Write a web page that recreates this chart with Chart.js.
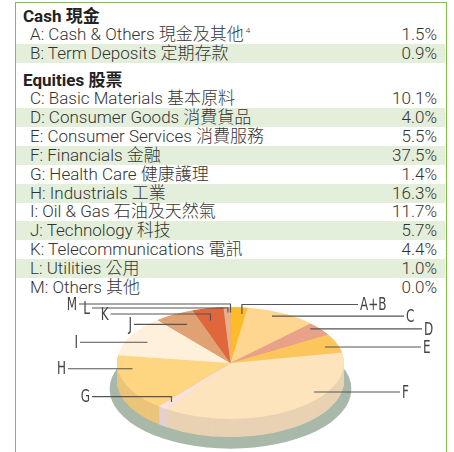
<!DOCTYPE html>
<html>
<head>
<meta charset="utf-8">
<script src="https://cdn.jsdelivr.net/npm/chart.js@4.4.0/dist/chart.umd.min.js"></script>
<style>
    html, body { margin: 0; padding: 0; background: #fff; width: 454px; height: 452px; overflow: hidden; }
    body { position: relative; font-family: Roboto, 'Noto Sans CJK TC', sans-serif; color: #333; }
    #frame { position: absolute; left: 15px; top: 2px; width: 432px; height: 480px; border: 1.5px solid #7DC242; box-sizing: border-box; }
    .row { position: absolute; left: 16px; width: 429px; height: 19px; line-height: 19px; font-size: 17px; font-weight: 300; }
    .row.band { background: #E3EFDA; }
    .row .name { position: absolute; left: 14px; white-space: nowrap; }
    .row .val { position: absolute; right: 8px; }
    .row sup { font-size: 8px; vertical-align: 7px; line-height: 0; margin-left: 2px; }
    .head { position: absolute; left: 23px; height: 19px; line-height: 19px; font-size: 17px; font-weight: 700; color: #222; }
    #pieBox { position: absolute; left: 0; top: 292px; width: 454px; height: 160px; }
</style>
</head>
<body>
<div id="frame"></div>
<div id="table"></div>
<div id="pieBox"><canvas id="pie" width="454" height="160"></canvas></div>

<script>
// --- data ---
const cashTitle = 'Cash 現金';
const cashKeys = ['A', 'B'];
const cashNames = ['Cash & Others 現金及其他', 'Term Deposits 定期存款'];
const cashValues = [1.5, 0.9];

const equityTitle = 'Equities 股票';
const equityKeys = ['C', 'D', 'E', 'F', 'G', 'H', 'I', 'J', 'K', 'L', 'M'];
const equityNames = [
    'Basic Materials 基本原料', 'Consumer Goods 消費貨品', 'Consumer Services 消費服務',
    'Financials 金融', 'Health Care 健康護理', 'Industrials 工業', 'Oil & Gas 石油及天然氣',
    'Technology 科技', 'Telecommunications 電訊', 'Utilities 公用', 'Others 其他'
];
const equityValues = [10.1, 4.0, 5.5, 37.5, 1.4, 16.3, 11.7, 5.7, 4.4, 1.0, 0.0];

// pie slices: cash is shown as one slice "A+B"
const pieLabels = [cashKeys.join('+'), ...equityKeys];
const pieValues = [cashValues.reduce((a, b) => a + b, 0), ...equityValues];

// --- styles ---
const sliceColors = ['#FDBA29', '#FED690', '#E9A18A', '#FDC65C', '#FDE4BC', '#F8E2DB',
                     '#FED580', '#FFF0DC', '#E1A273', '#E0673B', '#EBAF90', '#E9A088'];
const TILT = 56 / 113.5;   // vertical squash of the pie
const DEPTH = 18;          // wall height in px
const SHADOW_DROP = 26;
const SHADOW_COLOR = '#A8B8A9';

// callout layout per slice: t = position across the slice, f = fraction of radius,
// end = x where the leader line stops, y = elbow height (null for straight line)
const callouts = [
    { t: 0.76, f: 0.88, end: 358, y: 304.5 },
    { t: 0.41, f: 0.915, end: 404, y: null },
    { t: 0.28, f: 0.93, end: 422, y: null },
    { t: 0.59, f: 0.88, end: 421, y: null },
    { t: 0.34, f: 0.9, end: 400, y: null },
    { t: 0.5, f: 0.87, end: 92, y: 396.7 },
    { t: 0.75, f: 0.87, end: 68, y: null },
    { t: 0.45, f: 0.82, end: 80, y: null },
    { t: 0.53, f: 0.79, end: 134, y: null },
    { t: 0.4, f: 0.78, end: 110.5, y: 314 },
    { t: 0.6, f: 0.9, end: 92, y: 308 },
    { t: 0.5, f: 0.9, end: 79, y: 304 }
];
const PIE_TOP = 292;
const LABEL_SQUEEZE = 0.74;  // condensed look of the callout letters

function shade(hex) {
    const n = parseInt(hex.slice(1), 16);
    const r = Math.round(((n >> 16) & 255) * 0.92);
    const g = Math.round(((n >> 8) & 255) * 0.92);
    const b = Math.round((n & 255) * 0.95);
    return `rgb(${r},${g},${b})`;
}
const wallColors = sliceColors.map(shade);

// --- table ---
function buildTable() {
    const table = document.getElementById('table');
    const addHead = (text, top) => {
        const h = document.createElement('div');
        h.className = 'head';
        h.style.top = top + 'px';
        h.textContent = text;
        table.appendChild(h);
    };
    const addRow = (key, name, value, top, band, sup) => {
        const r = document.createElement('div');
        r.className = 'row' + (band ? ' band' : '');
        r.style.top = top + 'px';
        r.innerHTML = `<span class="name">${key}: ${name}${sup ? `<sup>${sup}</sup>` : ''}</span>` +
                      `<span class="val">${value.toFixed(1)}%</span>`;
        table.appendChild(r);
    };

    addHead(cashTitle, 6.5);
    cashKeys.forEach((k, i) => addRow(k, cashNames[i], cashValues[i], 25 + i * 19, i % 2 === 1, i === 0 ? '4' : ''));
    addHead(equityTitle, 70.5);
    equityKeys.forEach((k, i) => addRow(k, equityNames[i], equityValues[i], 89 + i * 18.9, i % 2 === 1, ''));
}
buildTable();

// --- 3D pie plugin ---
const pie3d = {
    id: 'pie3d',
    beforeDatasetsDraw(chart) {
        const ctx = chart.ctx;
        const arcs = chart.getDatasetMeta(0).data;
        const cx = arcs[0].x, cy = arcs[0].y, r = arcs[0].outerRadius;
        ctx.save();
        ctx.translate(cx, cy);
        ctx.scale(1, TILT);
        ctx.translate(-cx, -cy);

        ctx.fillStyle = SHADOW_COLOR;
        ctx.beginPath();
        ctx.arc(cx, cy + SHADOW_DROP / TILT, r * 1.065, 0, Math.PI * 2);
        ctx.fill();

        for (let i = DEPTH; i > 0; i -= 0.5) {
            arcs.forEach((arc, j) => {
                if (arc.endAngle - arc.startAngle <= 0) return;
                ctx.fillStyle = wallColors[j];
                ctx.beginPath();
                ctx.moveTo(cx, cy + i / TILT);
                ctx.arc(cx, cy + i / TILT, r, arc.startAngle, arc.endAngle);
                ctx.closePath();
                ctx.fill();
            });
        }
    },
    afterDatasetsDraw(chart) {
        const ctx = chart.ctx;
        ctx.restore();
        const arcs = chart.getDatasetMeta(0).data;
        const cx = arcs[0].x, cy = arcs[0].y, r = arcs[0].outerRadius;

        ctx.save();
        ctx.strokeStyle = '#555';
        ctx.lineWidth = 1.2;
        ctx.fillStyle = '#444';
        ctx.font = "18px 'Liberation Sans Narrow', 'DejaVu Sans Condensed', Roboto, sans-serif";
        ctx.textBaseline = 'middle';
        arcs.forEach((arc, j) => {
            const c = callouts[j];
            const a = arc.startAngle + c.t * (arc.endAngle - arc.startAngle);
            const ax = cx + Math.cos(a) * r * c.f;
            const ay = cy + Math.sin(a) * r * c.f * TILT;
            const ly = c.y === null ? ay : c.y - PIE_TOP;
            ctx.beginPath();
            ctx.moveTo(ax, ay);
            if (c.y !== null) ctx.lineTo(ax, ly);
            ctx.lineTo(c.end, ly);
            ctx.stroke();

            const right = c.end > cx;
            const tx = c.end + (right ? 2 : -2);
            ctx.save();
            ctx.translate(tx, ly + 1);
            ctx.scale(LABEL_SQUEEZE, 1);
            ctx.textAlign = right ? 'left' : 'right';
            ctx.fillText(pieLabels[j], 0, 0);
            ctx.restore();
        });
        ctx.restore();
    }
};

new Chart(document.getElementById('pie'), {
    type: 'pie',
    data: {
        labels: pieLabels,
        datasets: [{
            data: pieValues,
            backgroundColor: sliceColors,
            borderWidth: 0,
            radius: 113.5,
            clip: false
        }]
    },
    options: {
        responsive: false,
        animation: false,
        events: [],
        layout: { padding: { left: 7, right: 0, top: 0, bottom: 18 } },
        plugins: { legend: { display: false }, tooltip: { enabled: false } }
    },
    plugins: [pie3d]
});
</script>
</body>
</html>
